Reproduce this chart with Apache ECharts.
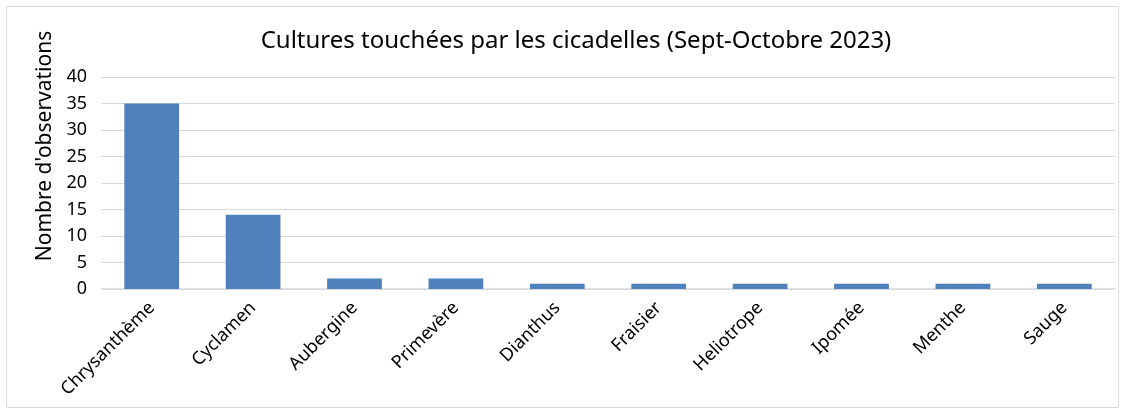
<!DOCTYPE html>
<html>
<head>
<meta charset="utf-8">
<script src="https://cdn.jsdelivr.net/npm/echarts@6/dist/echarts.min.js"></script>
<style>
  html, body { margin: 0; padding: 0; background: #fff; }
  #main { width: 1126px; height: 410px; }
</style>
</head>
<body>
<div id="main"></div>
<script>
// données
var cultures = ['Chrysanthème', 'Cyclamen', 'Aubergine', 'Primevère', 'Dianthus', 'Fraisier', 'Heliotrope', 'Ipomée', 'Menthe', 'Sauge']
var observations = [35, 14, 2, 2, 1, 1, 1, 1, 1, 1]

var myChart = echarts.init(document.getElementById('main'))
myChart.setOption({
  textStyle: { fontFamily: 'Noto Sans' },
  graphic: [
    {
      type: 'rect',
      shape: { x: 6.5, y: 6.5, width: 1112, height: 401 },
      style: { fill: 'none', stroke: '#d9d9d9', lineWidth: 1 },
      silent: true
    }
  ],
  title: {
    text: 'Cultures touchées par les cicadelles (Sept-Octobre 2023)',
    left: 571,
    top: 24,
    textAlign: 'center',
    textStyle: { fontSize: 24, fontWeight: 'normal', color: '#000', fontFamily: 'Noto Sans' }
  },
  grid: {
    left: 101,
    right: 11,
    top: 77,
    bottom: 121
  },
  xAxis: {
    type: 'category',
    data: cultures,
    axisTick: { show: false },
    axisLine: { lineStyle: { color: '#d9d9d9', width: 1.5 } },
    axisLabel: {
      rotate: 45,
      color: '#000',
      fontSize: 18,
      margin: 16,
      interval: 0
    }
  },
  yAxis: {
    type: 'value',
    min: 0,
    max: 40,
    interval: 5,
    name: "Nombre d'observations",
    nameLocation: 'middle',
    nameGap: 44,
    nameTextStyle: { fontSize: 21, color: '#000', padding: [0, 0, 0, 74] },
    axisLine: { show: false },
    axisTick: { show: false },
    axisLabel: { color: '#000', fontSize: 18, margin: 14 },
    splitLine: { lineStyle: { color: '#d9d9d9', width: 1 } }
  },
  series: [
    {
      type: 'bar',
      data: observations,
      barCategoryGap: '46%',
      itemStyle: { color: '#4f81bd' }
    }
  ]
})
</script>
</body>
</html>
